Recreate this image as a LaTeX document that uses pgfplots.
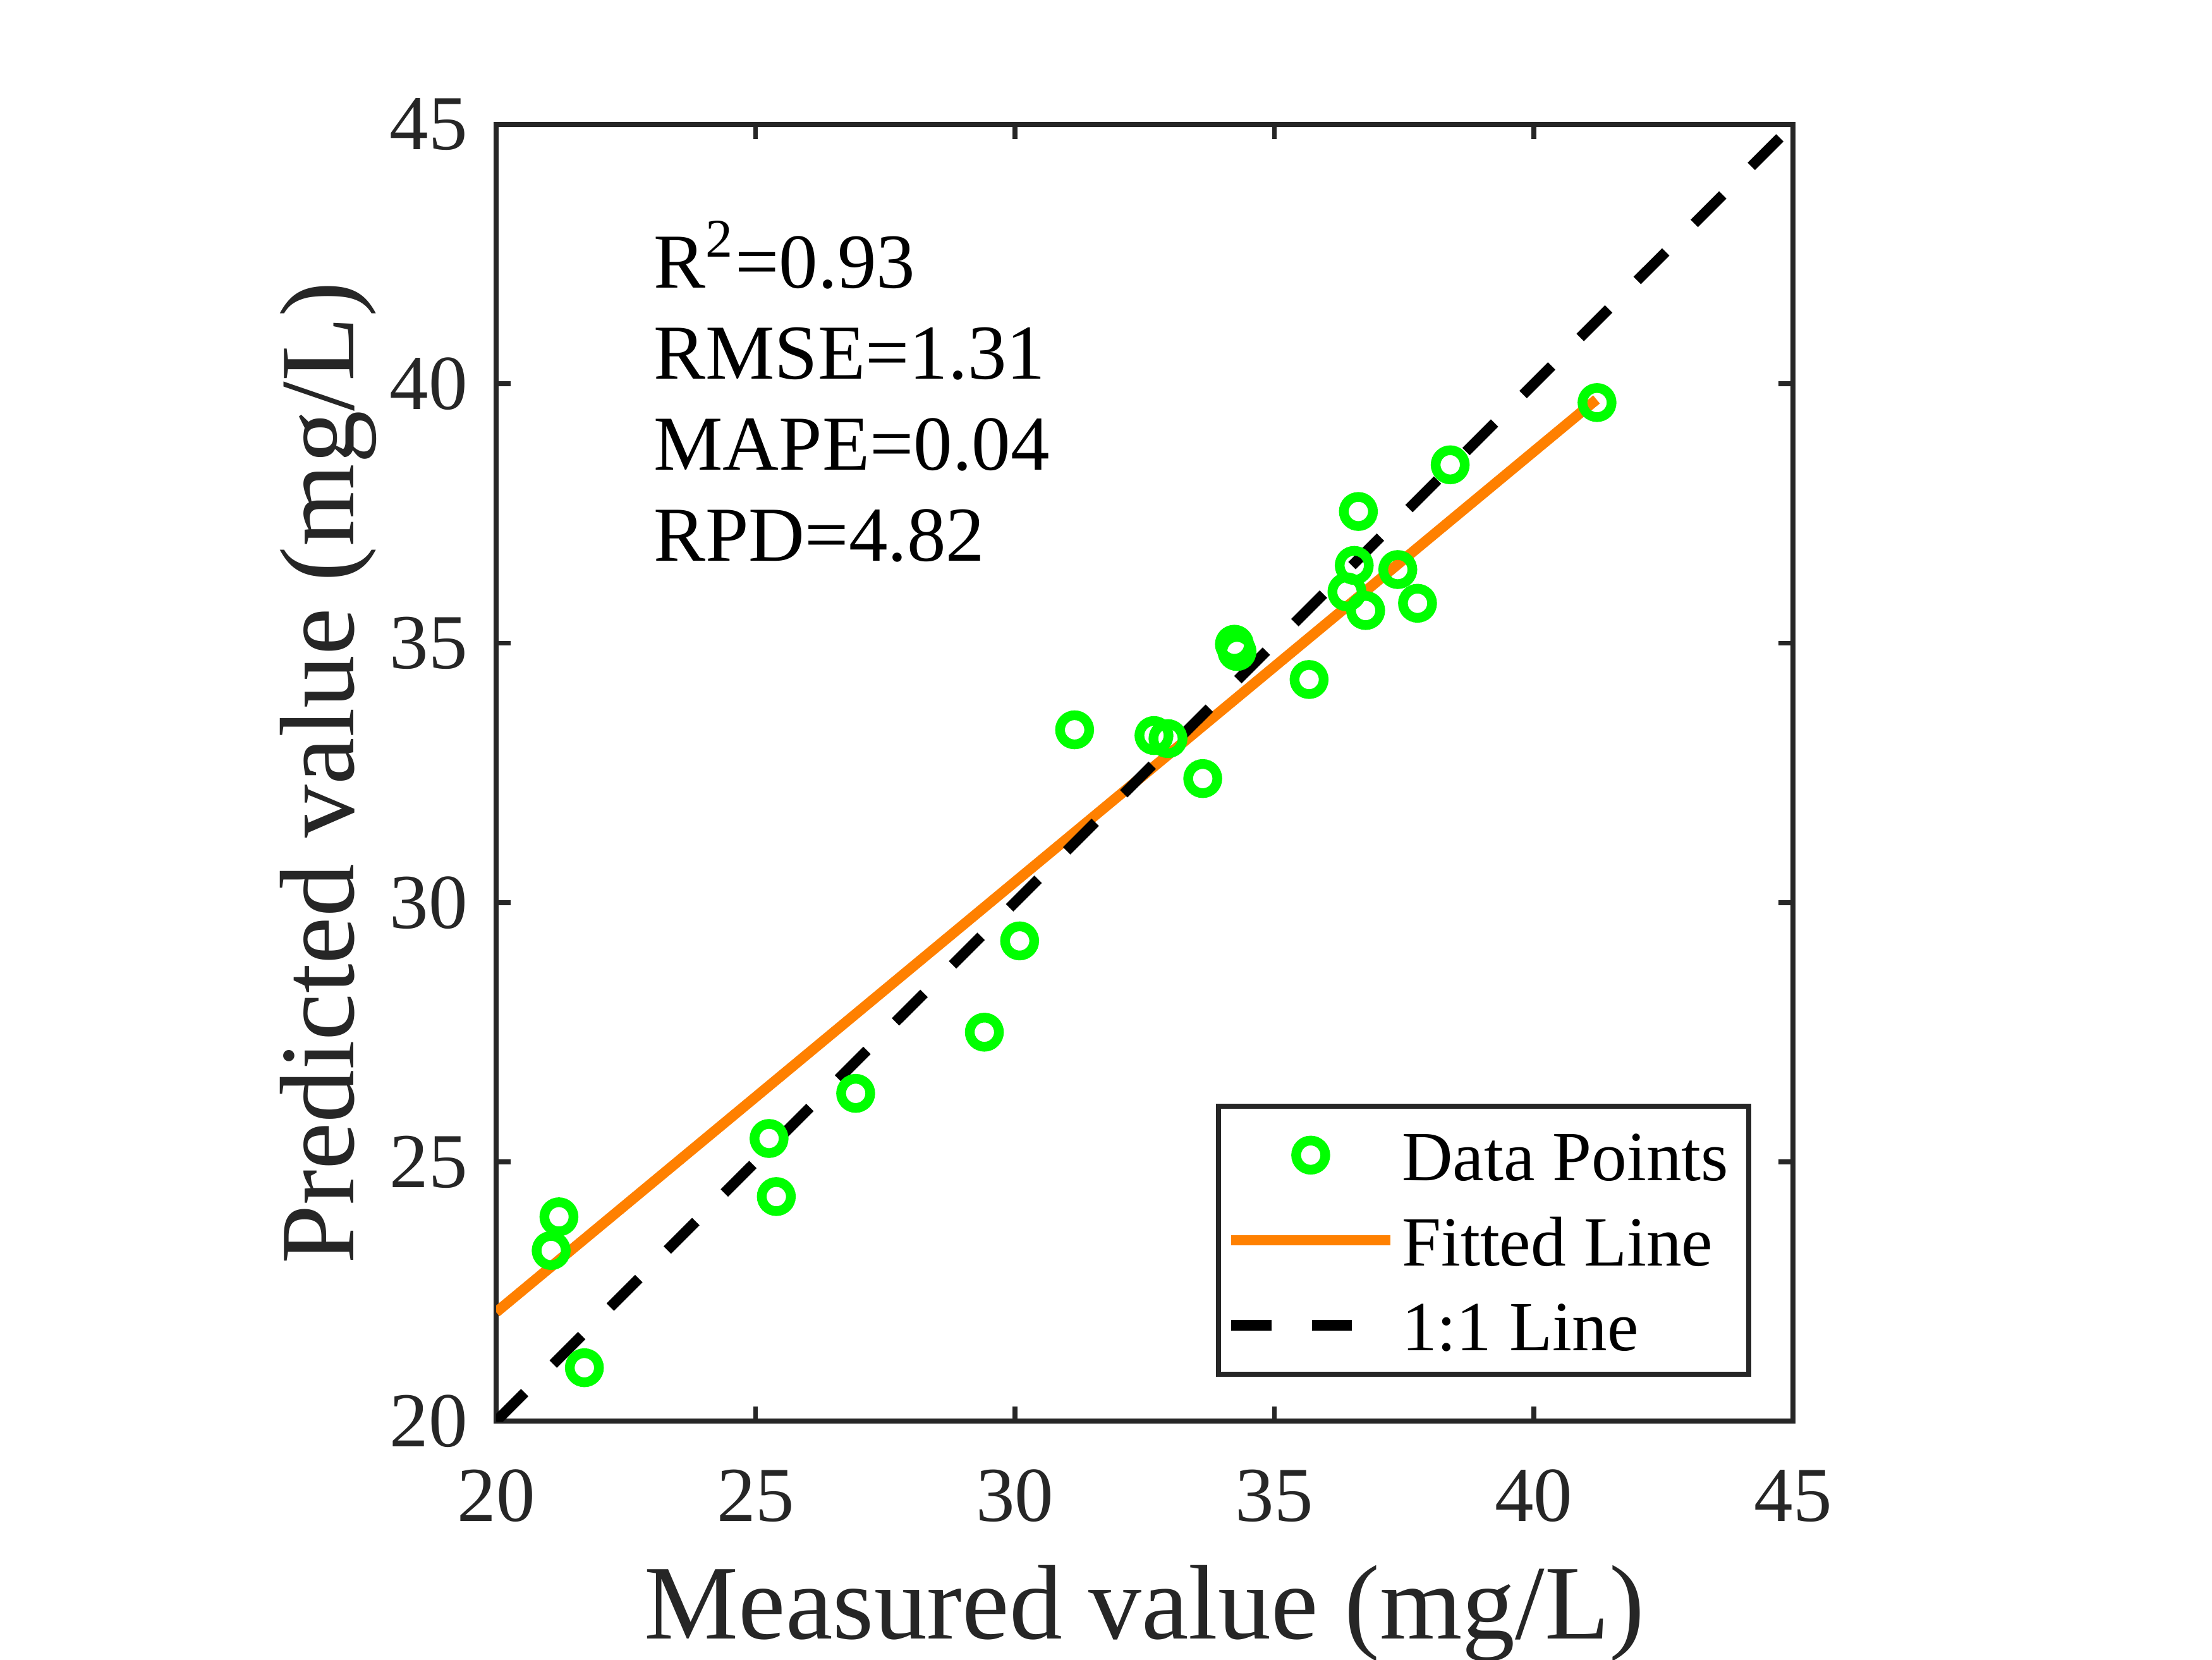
\documentclass[border=0pt]{standalone}
\usepackage{fontspec}
\setmainfont{Liberation Serif}
\usepackage{pgfplots}
\pgfplotsset{compat=1.18}
\definecolor{axgray}{HTML}{262626}
\definecolor{mgreen}{HTML}{00FF00}
\definecolor{morange}{HTML}{FF8000}
\pgfplotsset{
  markimg/.style={legend image code/.code={\path (0cm,0cm) (1.152cm,0.185cm);
    \draw[##1] plot coordinates {(0.576cm,0.185cm)};}},
  lineimg/.style={legend image code/.code={\draw[##1] (0cm,0.185cm) -- (1.152cm,0.185cm);}},
}

\begin{document}
\begin{tikzpicture}
\useasboundingbox (-3.589cm,-1.723cm) rectangle (12.411cm,10.277cm);
\begin{axis}[
  at={(0,0)}, anchor=south west,
  width=9.381cm, height=9.376cm, scale only axis,
  xmin=20, xmax=45, ymin=20, ymax=45,
  xtick={20,25,30,35,40,45}, ytick={20,25,30,35,40,45},
  tick align=inside, tick pos=both,
  major tick length=0.105cm,
  axis line style={axgray, line width=1pt},
  every tick/.style={axgray, line width=1pt},
  tick label style={font=\fontsize{16}{19}\selectfont, text=axgray},
  /pgf/number format/assume math mode=true,
  xticklabel style={anchor=base, inner sep=0pt, yshift=-0.722cm},
  yticklabel style={anchor=east, inner sep=0pt, xshift=-0.2cm},
  xlabel={Measured value (mg/L)},
  ylabel={Predicted value (mg/L)},
  label style={font=\fontsize{21.8}{26}\selectfont, text=axgray},
  xlabel style={at={(axis description cs:0.5,-0.1678)}, anchor=base, inner sep=0pt},
  ylabel style={at={(axis description cs:-0.1097,0.5)}, anchor=base, inner sep=0pt},
  legend style={
    at={(0.555,0.2448)}, anchor=north west,
    draw=axgray, line width=1pt, fill=white,
    inner xsep=0.054cm, inner ysep=0.089cm,
    row sep=0.085cm, column sep=0.045cm,
    font=\fontsize{14.5}{17}\selectfont,
    cells={anchor=base west},
    nodes={inner sep=0pt, text height=0.45cm, text depth=0.08cm},
  },
]
\addplot[only marks, mark=o, mark size=3pt, color=mgreen, line width=2pt, markimg]
  coordinates {
  (21.21,23.94) (21.06,23.29) (21.70,21.03) (25.26,25.45) (25.40,24.33)
  (26.93,26.32) (29.41,27.50) (30.09,29.26) (31.15,33.33) (32.68,33.22)
  (32.95,33.16) (33.62,32.39) (34.23,34.98) (34.28,34.84) (35.67,34.30)
  (36.40,35.99) (36.54,36.50) (36.62,37.54) (36.76,35.63) (37.38,36.42)
  (37.76,35.77) (38.39,38.44) (41.22,39.64)
  };
\addlegendentry{Data Points\rule{0.09cm}{0pt}}
\addplot[morange, line width=2.15pt, lineimg]
  coordinates {(20,22.10) (41.21,39.70)};
\addlegendentry{Fitted Line}
\addplot[black, line width=2.15pt, dash pattern=on 8.3pt off 8.3pt, lineimg]
  coordinates {(20,20) (45,45)};
\addlegendentry{1:1 Line}
\node[anchor=base west, inner sep=0pt, font=\fontsize{16}{19}\selectfont] at (axis cs:23.02,41.855) {R\textsuperscript{2}=0.93};
\node[anchor=base west, inner sep=0pt, font=\fontsize{16}{19}\selectfont] at (axis cs:23.02,40.10) {RMSE=1.31};
\node[anchor=base west, inner sep=0pt, font=\fontsize{16}{19}\selectfont] at (axis cs:23.02,38.345) {MAPE=0.04};
\node[anchor=base west, inner sep=0pt, font=\fontsize{16}{19}\selectfont] at (axis cs:23.02,36.59) {RPD=4.82};
\end{axis}
\end{tikzpicture}
\end{document}
